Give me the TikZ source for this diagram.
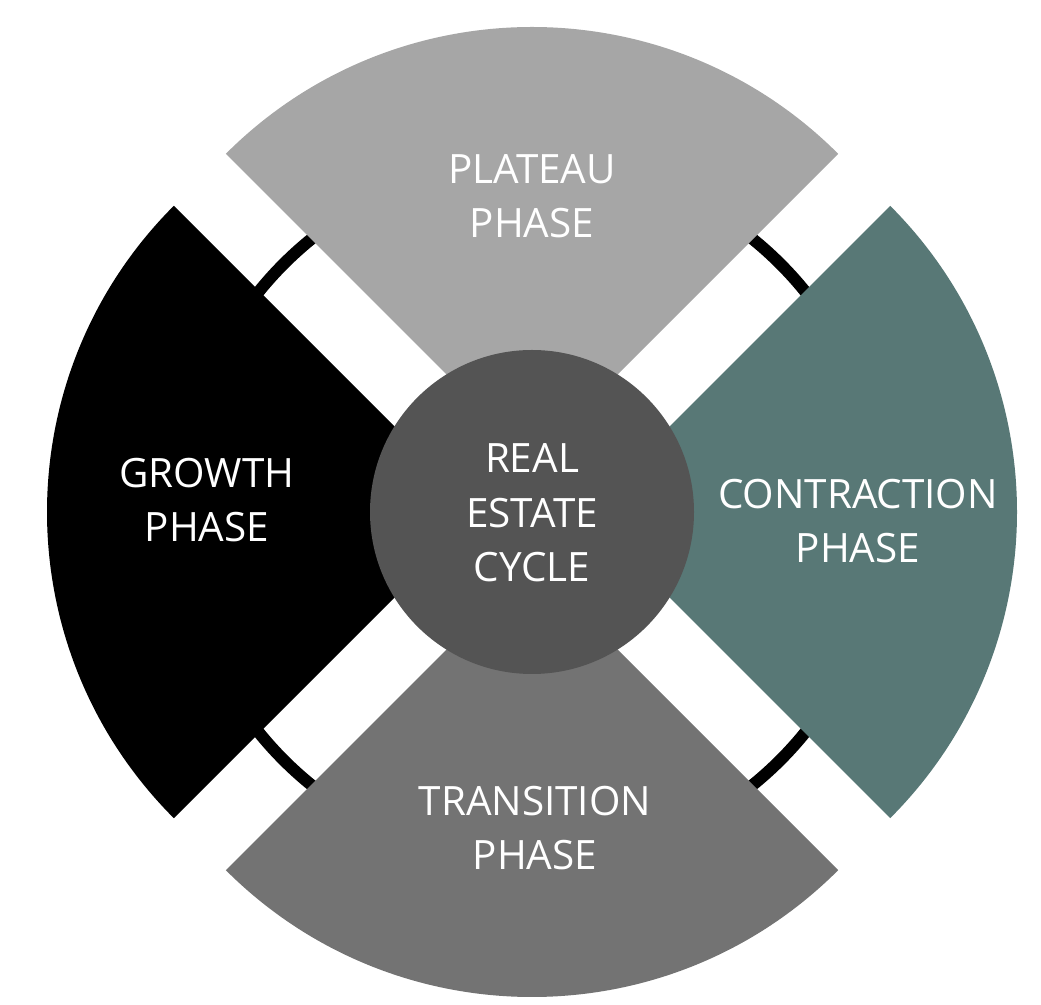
\documentclass[tikz,border=0pt]{standalone}
\usepackage{fontspec}
\setmainfont{Open Sans}
\usetikzlibrary{calc}
\definecolor{plateau}{HTML}{A6A6A6}
\definecolor{contract}{HTML}{587876}
\definecolor{transit}{HTML}{737373}
\definecolor{hub}{HTML}{545454}
\begin{document}
\begin{tikzpicture}[x=0.02cm,y=0.02cm]
  \tikzset{
    phase/.style={text=white,align=center,font=\fontsize{23}{31}\selectfont},
    wedge/.style={draw=none}
  }
  \useasboundingbox (0,0) rectangle (1041,1004);
  \coordinate (c) at (532,492);

  % Ring behind
  \draw[line width=6.8pt] (c) circle (351);

  % Wedges
  \fill[plateau] ($(c)+(0,52)$) -- +(135:433) arc[start angle=135,end angle=45,radius=433] -- cycle;
  \fill[black] ($(c)+(-52,0)$) -- +(225:433) arc[start angle=225,end angle=135,radius=433] -- cycle;
  \fill[contract] ($(c)+(52,0)$) -- +(-45:433) arc[start angle=-45,end angle=45,radius=433] -- cycle;
  \fill[transit] ($(c)+(0,-52)$) -- +(225:433) arc[start angle=225,end angle=315,radius=433] -- cycle;

  % Hub
  \fill[hub] (c) circle (162);

  % Labels
  \node[phase] (plat) at (532,808) {PLATEAU\\PHASE};
  \node[phase] (grow) at (207,504) {GROWTH\\PHASE};
  \node[phase] (cont) at (858,483) {CONTRACTION\\PHASE};
  \node[phase] (tran) at (535,176) {TRANSITION\\PHASE};
  \node[phase] (cyc) at (532,491) {REAL\\ESTATE\\CYCLE};
\end{tikzpicture}
\end{document}
